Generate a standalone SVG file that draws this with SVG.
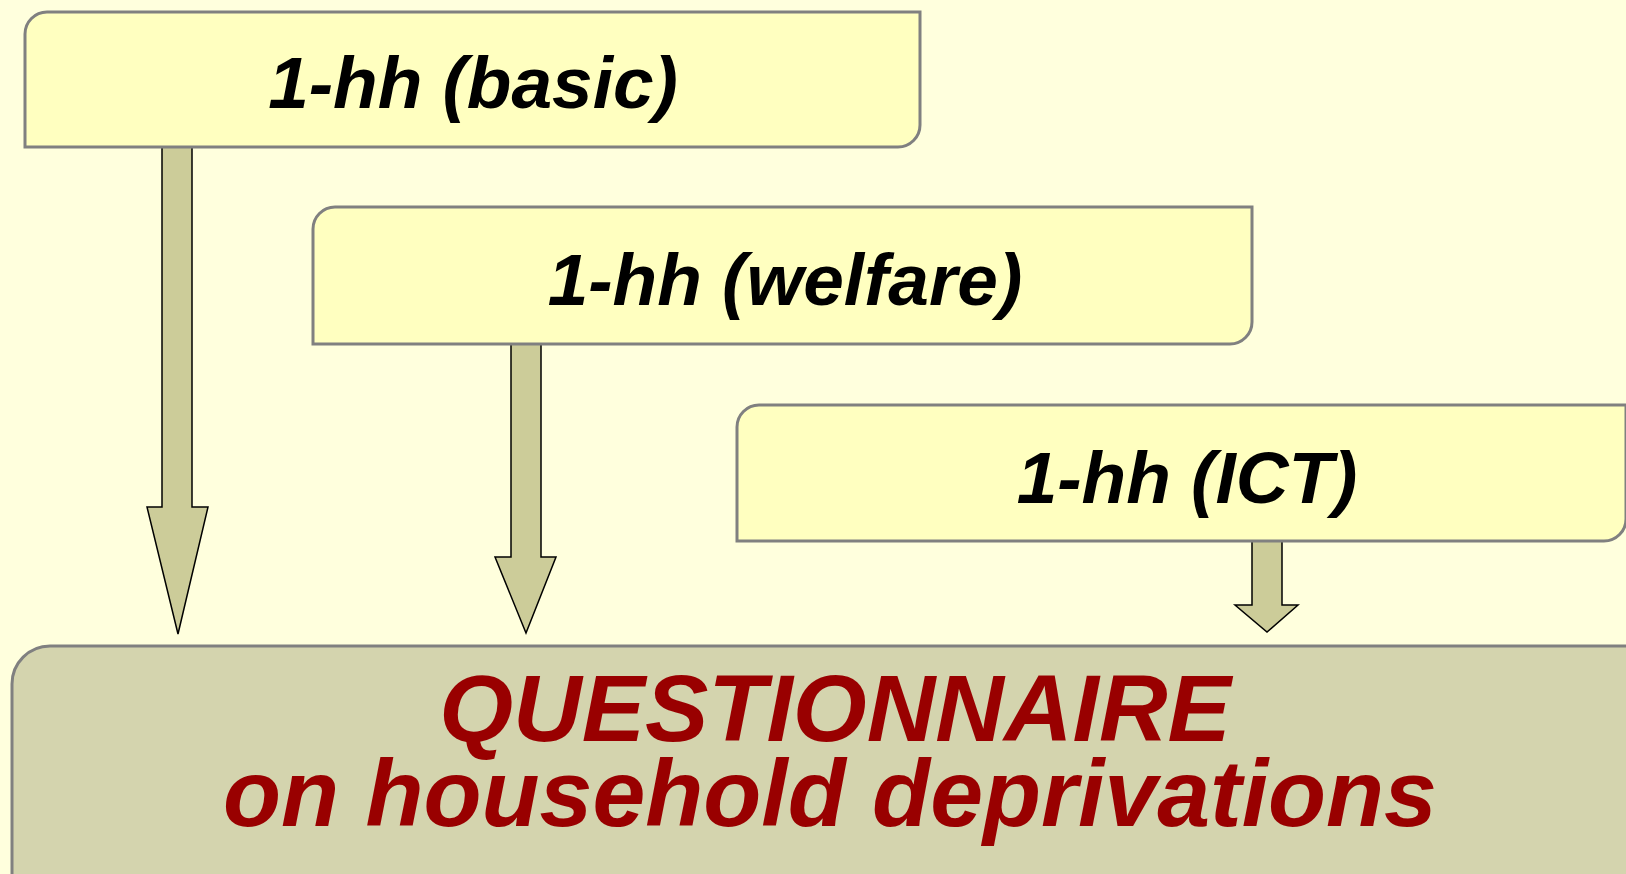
<svg xmlns="http://www.w3.org/2000/svg" width="1626" height="874" viewBox="0 0 1626 874">
<style>
.box{fill:#FFFFC0;stroke:#808080;stroke-width:3}
.base{fill:#D4D4AE;stroke:#808080;stroke-width:3}
.arr{fill:#CCCC99;stroke:#000;stroke-width:1.5;stroke-linejoin:miter}
.lbl{font-family:"Liberation Sans",Arial,sans-serif;font-weight:bold;font-style:italic;font-size:73px;fill:#000;text-anchor:middle}
.big{font-family:"Liberation Sans",Arial,sans-serif;font-weight:bold;font-style:italic;font-size:95px;fill:#990000;text-anchor:middle}
</style>
<rect width="1626" height="874" fill="#FFFFDD"/>
<g id="connectors">
<path class="arr" d="M162,146 H192 V507 H208 L178,634 L147,507 H162 Z"/>
<path class="arr" d="M511,342 H541 V557 H556 L526,633 L495,557 H511 Z"/>
<path class="arr" d="M1252,539 H1282 V605 H1298 L1267,632 L1235,605 H1252 Z"/>
</g>
<g id="node-basic">
<path class="box" d="M25,34 A22,22 0 0 1 47,12 H920 V125 A22,22 0 0 1 898,147 H25 Z"/>
<text class="lbl" x="473" y="108">1-hh (basic)</text>
</g>
<g id="node-welfare">
<path class="box" d="M313,229 A22,22 0 0 1 335,207 H1252 V322 A22,22 0 0 1 1230,344 H313 Z"/>
<text class="lbl" x="785" y="305">1-hh (welfare)</text>
</g>
<g id="node-ict">
<path class="box" d="M737,427 A22,22 0 0 1 759,405 H1626 V519 A22,22 0 0 1 1604,541 H737 Z"/>
<text class="lbl" x="1187" y="503">1-hh (ICT)</text>
</g>
<g id="node-questionnaire">
<path class="base" d="M12,684 A38,38 0 0 1 50,646 H1640 V900 H12 Z"/>
<text class="big" x="835" y="741">QUESTIONNAIRE</text>
<text class="big" x="830" y="826">on household deprivations</text>
</g>
</svg>
